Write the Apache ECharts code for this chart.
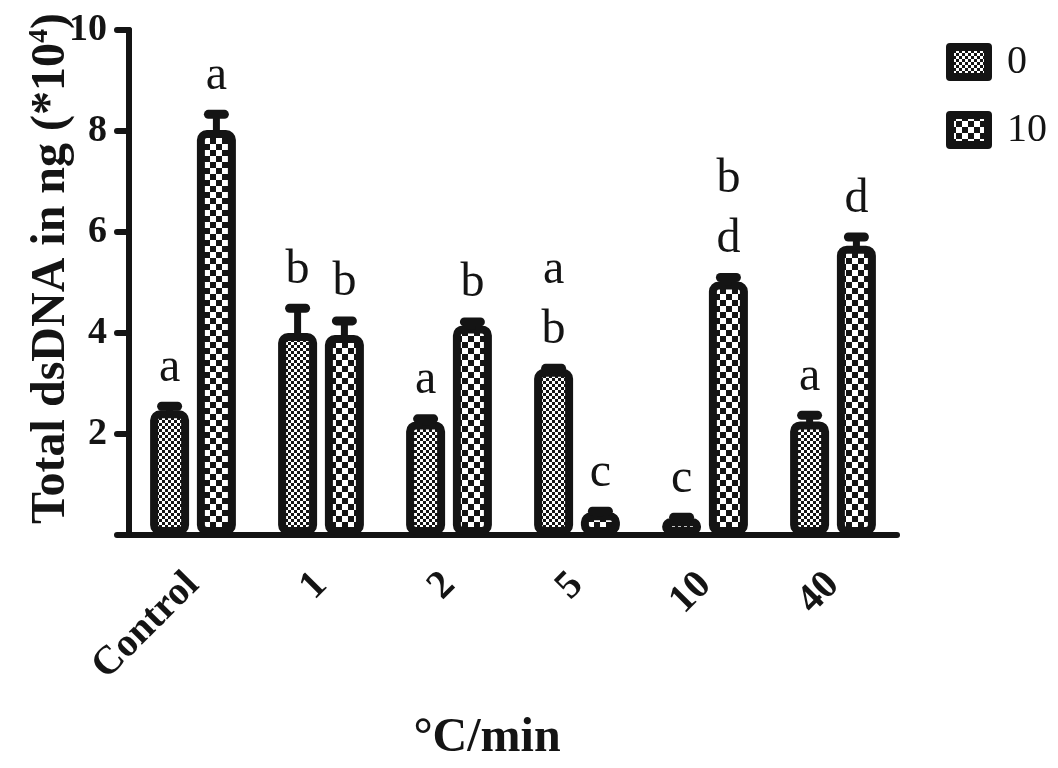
<!DOCTYPE html>
<html>
<head>
<meta charset="utf-8">
<script src="https://cdn.jsdelivr.net/npm/echarts@6/dist/echarts.min.js"></script>
<style>
  html, body { margin: 0; padding: 0; background: #fff; }
  #chart { width: 1058px; height: 768px; }
</style>
</head>
<body>
<div id="chart"></div>
<script>
// 数据
var categories = ['Control', '1', '2', '5', '10', '40']
var seriesNames = ['0', '10']
var mean0 = [2.47, 4.0, 2.25, 3.29, 0.33, 2.25]
var upper0 = [2.55, 4.49, 2.3, 3.3, 0.35, 2.37]
var mean10 = [8.02, 3.96, 4.15, 0.45, 5.02, 5.73]
var upper10 = [8.33, 4.24, 4.22, 0.47, 5.1, 5.9]
var letters0 = ['a', 'b', 'a', 'a\nb', 'c', 'a']
var letters10 = ['a', 'b', 'b', 'c', 'b\nd', 'd']
var yTicks = [0, 2, 4, 6, 8, 10]

var INK = '#141414'
var BAR_W = 39
var BAR_GAP = 0.2
var HALF = BAR_W * (1 + BAR_GAP) / 2

// checker pattern
function checker(size) {
  var c = document.createElement('canvas')
  c.width = size * 2
  c.height = size * 2
  var ctx = c.getContext('2d')
  ctx.fillStyle = '#fff'
  ctx.fillRect(0, 0, size * 2, size * 2)
  ctx.fillStyle = INK
  ctx.fillRect(0, 0, size, size)
  ctx.fillRect(size, size, size, size)
  return { image: c, repeat: 'repeat' }
}

var fine = checker(3)
var coarse = checker(6)

function errSeries(means, uppers, letters, side) {
  return {
    type: 'custom',
    z: 3,
    silent: true,
    data: means.map(function (m, i) { return [i, m, uppers[i]] }),
    renderItem: function (params, api) {
      var base = api.coord([api.value(0), api.value(1)])
      var top = api.coord([api.value(0), api.value(2)])
      var x = base[0] + side * HALF
      return {
        type: 'group',
        children: [{
          type: 'line',
          shape: { x1: x, y1: base[1] + 4, x2: x, y2: top[1] },
          style: { stroke: INK, lineWidth: 7 }
        }, {
          type: 'line',
          shape: { x1: x - 8, y1: top[1], x2: x + 8, y2: top[1] },
          style: { stroke: INK, lineWidth: 9, lineCap: 'round' }
        }, {
          type: 'text',
          style: {
            x: x,
            y: top[1] - 8,
            text: letters[params.dataIndex],
            align: 'center',
            verticalAlign: 'bottom',
            fontFamily: 'Liberation Serif',
            fontSize: 48,
            lineHeight: 60,
            fill: INK
          }
        }]
      }
    }
  }
}

var chart = echarts.init(document.getElementById('chart'))

var option = {
  backgroundColor: '#fff',
  animation: false,
  grid: { left: 129, right: 161, top: 30, bottom: 228 },
  legend: {
    orient: 'vertical',
    left: 941,
    top: 37,
    itemWidth: 38,
    itemHeight: 30,
    itemGap: 28,
    icon: 'rect',
    textStyle: { fontFamily: 'Liberation Serif', fontSize: 40, lineHeight: 30, color: INK, padding: [0, 0, 0, 14] },
    itemStyle: { borderColor: INK, borderWidth: 8, borderJoin: 'round' },
    data: seriesNames
  },
  xAxis: {
    type: 'category',
    data: categories,
    name: '°C/min',
    nameLocation: 'middle',
    nameGap: 180,
    nameMoveOverlap: false,
    nameTextStyle: { fontFamily: 'Liberation Serif', fontWeight: 'bold', fontSize: 48, color: INK, padding: [0, 52, 0, 0] },
    axisLine: { lineStyle: { color: INK, width: 6, cap: 'round' } },
    axisTick: { alignWithLabel: true, length: 11, lineStyle: { color: INK, width: 6, cap: 'round' } },
    axisLabel: {
      rotate: 45,
      margin: 44,
      fontFamily: 'Liberation Serif',
      fontWeight: 'bold',
      fontSize: 40,
      color: INK
    }
  },
  yAxis: {
    type: 'value',
    min: 0,
    max: 10,
    interval: 2,
    name: 'Total dsDNA in ng (*10{sup|4})',
    nameLocation: 'middle',
    nameGap: 51,
    nameRotate: 90,
    nameMoveOverlap: false,
    nameTextStyle: {
      fontFamily: 'Liberation Serif',
      fontWeight: 'bold',
      fontSize: 48,
      color: INK,
      padding: [0, 0, 0, 28],
      rich: {
        sup: { fontFamily: 'Liberation Serif', fontWeight: 'bold', fontSize: 28, verticalAlign: 'top', padding: [0, 0, 24, 0], color: INK }
      }
    },
    axisLine: { show: true, lineStyle: { color: INK, width: 6, cap: 'round' } },
    axisTick: { show: true, length: 12, lineStyle: { color: INK, width: 6, cap: 'round' } },
    splitLine: { show: false },
    axisLabel: {
      margin: 22,
      fontFamily: 'Liberation Serif',
      fontWeight: 'bold',
      fontSize: 38,
      color: INK,
      formatter: function (v) { return yTicks.indexOf(v) > 0 ? String(v) : '' }
    }
  },
  series: [{
    name: seriesNames[0],
    type: 'bar',
    data: mean0,
    barWidth: BAR_W,
    barGap: (BAR_GAP * 100) + '%',
    itemStyle: { color: fine, borderColor: INK, borderWidth: 8, borderRadius: 6 }
  }, {
    name: seriesNames[1],
    type: 'bar',
    data: mean10,
    barWidth: BAR_W,
    barGap: (BAR_GAP * 100) + '%',
    itemStyle: { color: coarse, borderColor: INK, borderWidth: 8, borderRadius: 6 }
  },
  errSeries(mean0, upper0, letters0, -1),
  errSeries(mean10, upper10, letters10, 1)
  ]
}

chart.setOption(option)
</script>
</body>
</html>
